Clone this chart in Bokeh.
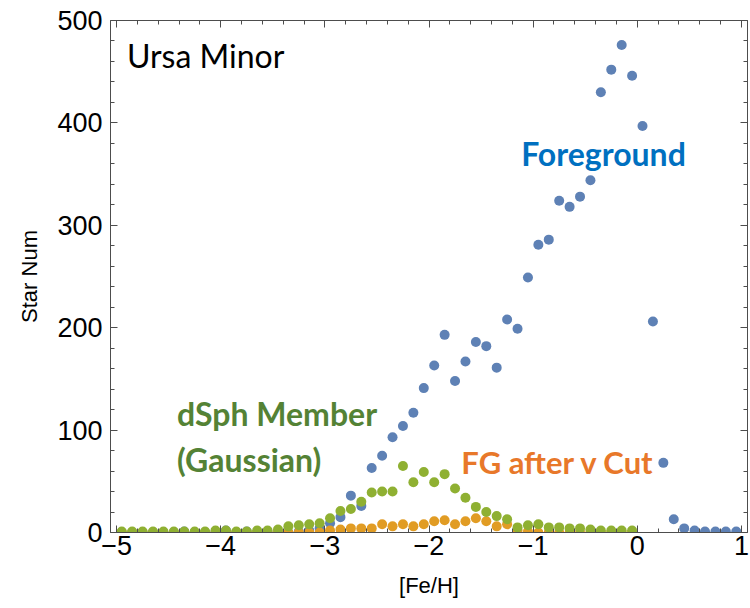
from bokeh.plotting import figure
from bokeh.models import Range1d, LinearAxis, SingleIntervalTicker, Label, ColumnDataSource
from bokeh.embed import file_html
from bokeh.resources import INLINE

# [Fe/H] bin centres
feh_all = [-4.95, -4.85, -4.75, -4.65, -4.55, -4.45, -4.35, -4.25, -4.15, -4.05,
           -3.95, -3.85, -3.75, -3.65, -3.55, -3.45, -3.35, -3.25, -3.15, -3.05,
           -2.95, -2.85, -2.75, -2.65, -2.55, -2.45, -2.35, -2.25, -2.15, -2.05,
           -1.95, -1.85, -1.75, -1.65, -1.55, -1.45, -1.35, -1.25, -1.15, -1.05,
           -0.95, -0.85, -0.75, -0.65, -0.55, -0.45, -0.35, -0.25, -0.15, -0.05,
           0.05, 0.15, 0.25, 0.35, 0.45, 0.55, 0.65, 0.75, 0.85, 0.95]

feh_metal_poor = feh_all[:50]

# Foreground star counts
foreground = [0, 0, 0, 0, 0, 0, 1, 0, 0, 0,
              2, 0, 1, 0, 0, 0, 0, 1, 2, 4,
              9, 15, 36, 26, 63, 75, 93, 104, 117, 141,
              163, 193, 148, 167, 186, 182, 161, 208, 199, 249,
              281, 286, 324, 318, 328, 344, 430, 452, 476, 446,
              397, 206, 68, 13, 4, 2, 1, 1, 1, 1]

# Foreground after velocity cut
fg_after_cut = [0, 0, 0, 0, 0, 0, 0, 0, 0, 0,
                0, 0, 0, 0, 0, 0, 0, 0, 0, 0,
                2, 3, 4, 4, 4, 8, 6, 8, 6, 8,
                11, 12, 8, 11, 14, 11, 6, 8, 2, 1,
                0, 0, 0, 0, 0, 0, 0, 0, 0, 0]

# dSph members (Gaussian)
dsph_member = [1, 1, 1, 1, 1, 1, 1, 1, 1, 2,
               2, 1, 1, 2, 2, 3, 6, 7, 8, 9,
               14, 21, 23, 30, 39, 40, 40, 65, 49, 59,
               49, 57, 43, 34, 25, 20, 16, 13, 5, 7,
               8, 5, 5, 4, 4, 3, 2, 2, 2, 2]

x_ticks = [-5, -4, -3, -2, -1, 0, 1]
y_ticks = [0, 100, 200, 300, 400, 500]

BLUE = "#5E81B5"
ORANGE = "#E19C24"
GREEN = "#8FB032"
FRAME = "#4d4d4d"

p = figure(width=750, height=608,
           x_range=Range1d(-5.058, 1.058), y_range=Range1d(0, 500),
           output_backend="svg", toolbar_location=None,
           min_border_left=110, min_border_right=3,
           min_border_top=20, min_border_bottom=76,
           x_axis_label="[Fe/H]", y_axis_label="Star Num")
p.xgrid.visible = False
p.ygrid.visible = False
p.outline_line_color = None
p.background_fill_color = "white"
p.border_fill_color = "white"

xt = SingleIntervalTicker(interval=1, num_minor_ticks=5)
yt = SingleIntervalTicker(interval=100, num_minor_ticks=5)

def style_axis(ax, labels=True):
    ax.axis_line_color = FRAME
    ax.major_tick_line_color = FRAME
    ax.minor_tick_line_color = FRAME
    ax.major_tick_in = 7
    ax.major_tick_out = 0
    ax.minor_tick_in = 4
    ax.minor_tick_out = 0
    if labels:
        ax.major_label_text_font = "Liberation Sans"
        ax.major_label_text_font_size = "27px"
        ax.major_label_text_color = "black"
        ax.axis_label_text_font = "Liberation Sans"
        ax.axis_label_text_font_style = "normal"
        ax.axis_label_text_color = "black"
    else:
        ax.major_label_text_font_size = "0px"
        ax.major_label_standoff = 0
        ax.axis_label_standoff = 0
        ax.axis_label = None

xa = p.xaxis[0]
xa.ticker = xt
style_axis(xa)
xa.major_label_overrides = {v: (("\u2212" + str(-v)) if v < 0 else str(v)) for v in x_ticks}
xa.major_label_standoff = 3
xa.axis_label_text_font_size = "22px"
xa.axis_label_standoff = 15

ya = p.yaxis[0]
ya.ticker = yt
style_axis(ya)
ya.major_label_overrides = {v: str(v) for v in y_ticks}
ya.major_label_standoff = 8
ya.axis_label_text_font_size = "22px"
ya.axis_label_standoff = 12

top = LinearAxis(ticker=SingleIntervalTicker(interval=1, num_minor_ticks=5))
style_axis(top, labels=False)
p.add_layout(top, "above")
right = LinearAxis(ticker=SingleIntervalTicker(interval=100, num_minor_ticks=5))
style_axis(right, labels=False)
p.add_layout(right, "right")

src_fg = ColumnDataSource(dict(x=feh_all, y=foreground))
src_cut = ColumnDataSource(dict(x=feh_metal_poor, y=fg_after_cut))
src_ds = ColumnDataSource(dict(x=feh_metal_poor, y=dsph_member))

p.scatter("x", "y", source=src_fg, size=10, fill_color=BLUE, line_color=None)
p.scatter("x", "y", source=src_cut, size=10, fill_color=ORANGE, line_color=None)
p.scatter("x", "y", source=src_ds, size=10, fill_color=GREEN, line_color=None)

def add_label(x, y, text, color, size, bold=True):
    p.add_layout(Label(x=x, y=y, text=text, text_color=color,
                       text_font="Lato", text_font_size=size,
                       text_font_style="bold" if bold else "normal",
                       text_baseline="alphabetic", text_align="left"))

add_label(-4.90, 466, "Ursa Minor", "black", "32px", bold=False)
add_label(-1.115, 370, "Foreground", "#0070C0", "32px")
add_label(-4.42, 116, "dSph Member", "#548235", "32px")
add_label(-4.42, 71, "(Gaussian)", "#548235", "32px")
add_label(-1.69, 69, "FG after v Cut", "#E8782A", "31px")

open("out.html", "w").write(file_html(p, INLINE))
